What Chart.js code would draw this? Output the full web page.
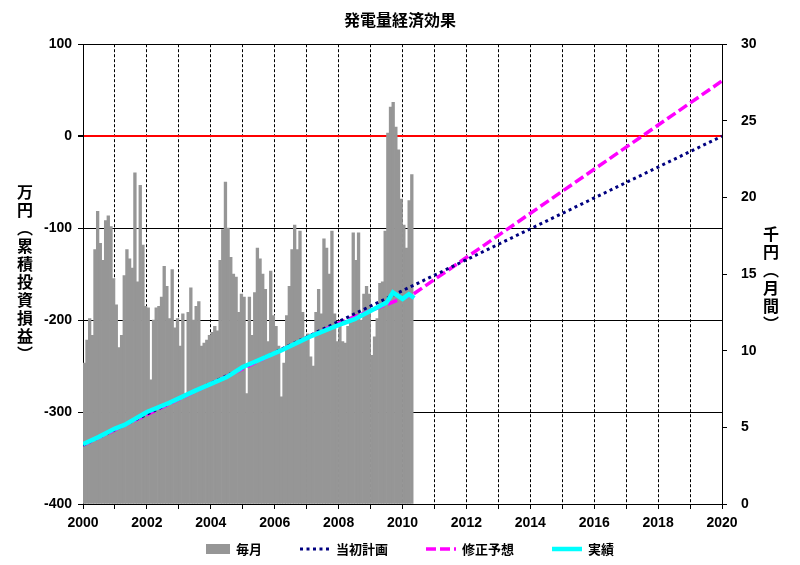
<!DOCTYPE html>
<html>
<head>
<meta charset="utf-8">
<title>発電量経済効果</title>
<script src="https://cdn.jsdelivr.net/npm/chart.js@4.4.0/dist/chart.umd.min.js"></script>
<style>
  html, body { margin: 0; padding: 0; background: #ffffff; }
</style>
</head>
<body>
<canvas id="chart" width="800" height="565"></canvas>
<script>
// monthly amount (千円), Jan 2000 - Apr 2010
var monthly = [
  9.2, 10.7, 12.1, 11.0, 16.6, 19.1, 17.0, 15.9, 18.5, 18.8, 18.1, 14.7, // 2000
  13.0, 10.2, 11.0, 14.9, 16.6, 16.0, 15.4, 21.6, 14.5, 20.8, 16.9, 12.9, // 2001
  12.8, 8.1, 12.0, 12.8, 12.9, 13.5, 15.5, 14.2, 12.1, 15.3, 11.5, 12.1, // 2002
  10.3, 12.4, 7.2, 12.5, 14.1, 12.0, 12.9, 13.2, 10.3, 10.5, 10.7, 11.0, // 2003
  11.2, 11.6, 11.3, 15.9, 17.9, 21.0, 18.0, 16.1, 15.0, 14.8, 12.5, 13.7, // 2004
  13.5, 7.2, 13.5, 11.0, 13.8, 16.7, 16.0, 15.0, 14.0, 10.6, 15.2, 12.3, // 2005
  11.6, 10.3, 7.0, 9.2, 12.3, 14.2, 16.6, 18.2, 16.6, 17.8, 12.5, 10.9, // 2006
  11.1, 9.6, 9.0, 12.5, 14.0, 12.4, 17.3, 16.7, 15.0, 17.8, 12.4, 10.6, // 2007
  11.7, 10.6, 10.5, 11.6, 12.2, 17.7, 15.9, 17.7, 12.0, 13.7, 14.2, 13.7, // 2008
  9.7, 10.9, 12.1, 14.4, 14.5, 17.8, 24.2, 25.9, 26.2, 24.6, 23.1, 19.9, // 2009
  18.2, 16.7, 19.8, 21.5                                                 // 2010
];
var startYear = 2000;

// cumulative (万円)
var planYears = [2000, 2020];
var planValues = [-336, 0];
var revisedYears = [2000, 2008, 2010.33, 2020];
var revisedValues = [-336, -203, -172, 60];
var actualYears = [2000, 2000.5, 2001, 2001.3, 2001.8, 2002, 2002.7, 2003.5, 2004.5, 2005,
  2005.4, 2006.2, 2007.1, 2008.1, 2008.5, 2009.5, 2009.7, 2010, 2010.2, 2010.37];
var actualValues = [-335, -327, -318, -314, -304, -300, -290, -277, -262, -251,
  -245, -233, -218, -204, -199, -181, -170, -177, -172, -176];

var seriesNames = ["毎月", "当初計画", "修正予想", "実績"];
var leftTitle = ["万", "円", "︵", "累", "積", "投", "資", "損", "益", "︶"];
var rightTitle = ["千", "円", "︵", "月", "間", "︶"];

var fontFamily = "'Liberation Sans', 'Noto Sans CJK JP', sans-serif";
Chart.defaults.font.family = fontFamily;
Chart.defaults.color = "#000000";

function points(xs, ys) {
  return xs.map(function (x, i) { return { x: x, y: ys[i] }; });
}

// vertical axis titles and the legend row
var extraText = {
  id: "extraText",
  afterDraw: function (chart) {
    var ctx = chart.ctx;
    ctx.save();
    ctx.fillStyle = "#000000";
    ctx.textAlign = "center";
    ctx.textBaseline = "middle";
    ctx.font = "bold 16px 'Noto Sans CJK JP'";
    leftTitle.forEach(function (ch, i) { ctx.fillText(ch, 25, 192 + i * 18); });
    rightTitle.forEach(function (ch, i) { ctx.fillText(ch, 771, 234 + i * 18); });

    ctx.font = "bold 13px 'Noto Sans CJK JP'";
    var gap = 6, space = 38, y = 549;
    var sets = chart.data.datasets;
    var widths = sets.map(function (ds) {
      var sample = ds.type === "bar" ? 24 : 30;
      return sample + gap + ctx.measureText(ds.label).width;
    });
    var total = widths.reduce(function (a, b) { return a + b; }, 0) + space * (sets.length - 1);
    var x = 410 - total / 2;
    sets.forEach(function (ds, i) {
      var sample = ds.type === "bar" ? 24 : 30;
      if (ds.type === "bar") {
        ctx.fillStyle = ds.backgroundColor;
        ctx.fillRect(x, y - 5, sample, 10);
      } else {
        ctx.strokeStyle = ds.borderColor;
        ctx.lineWidth = ds.borderWidth;
        ctx.setLineDash(ds.borderDash || []);
        ctx.beginPath();
        ctx.moveTo(x, y);
        ctx.lineTo(x + sample, y);
        ctx.stroke();
        ctx.setLineDash([]);
      }
      ctx.fillStyle = "#000000";
      ctx.textAlign = "left";
      ctx.fillText(ds.label, x + sample + gap, y);
      x += widths[i] + space;
    });
    ctx.restore();
  }
};

new Chart(document.getElementById("chart"), {
  type: "bar",
  data: {
    datasets: [
      {
        type: "bar",
        label: seriesNames[0],
        data: monthly.map(function (v, i) { return { x: startYear + (i + 0.5) / 12, y: v }; }),
        yAxisID: "y1",
        backgroundColor: "#969696",
        borderWidth: 0,
        barPercentage: 1,
        categoryPercentage: 1,
        order: 4
      },
      {
        type: "line",
        label: seriesNames[1],
        data: points(planYears, planValues),
        yAxisID: "y",
        borderColor: "#000080",
        borderWidth: 3,
        borderDash: [3, 3.5],
        pointRadius: 0,
        tension: 0,
        order: 1
      },
      {
        type: "line",
        label: seriesNames[2],
        data: points(revisedYears, revisedValues),
        yAxisID: "y",
        borderColor: "#ff00ff",
        borderWidth: 3.5,
        borderDash: [10, 4],
        pointRadius: 0,
        tension: 0,
        order: 2
      },
      {
        type: "line",
        label: seriesNames[3],
        data: points(actualYears, actualValues),
        yAxisID: "y",
        borderColor: "#00ffff",
        borderWidth: 4.5,
        pointRadius: 0,
        tension: 0,
        order: 0
      }
    ]
  },
  options: {
    responsive: false,
    animation: false,
    layout: { padding: { top: 0, left: 0, right: 0, bottom: 32 } },
    plugins: {
      legend: { display: false },
      tooltip: { enabled: false },
      title: {
        display: true,
        text: "発電量経済効果",
        color: "#000000",
        font: { size: 16, weight: "bold", family: fontFamily },
        padding: { top: 12, bottom: 13 }
      }
    },
    scales: {
      x: {
        type: "linear",
        min: 2000,
        max: 2020,
        offset: false,
        grid: { color: "#000000", lineWidth: 1, offset: false, tickLength: 5, tickColor: "#000000" },
        border: { color: "#000000", width: 1, dash: [3, 2] },
        ticks: {
          stepSize: 1,
          autoSkip: false,
          maxRotation: 0,
          padding: 6,
          color: "#000000",
          font: { size: 14, weight: "bold" },
          callback: function (v) { return v % 2 === 0 ? String(v) : ""; }
        },
        afterFit: function (s) { s.height = 29; }
      },
      y: {
        position: "left",
        min: -400,
        max: 100,
        grid: {
          color: function (c) { return c.tick && c.tick.value === 0 ? "#ff0000" : "#000000"; },
          lineWidth: function (c) { return c.tick && c.tick.value === 0 ? 2 : 1; },
          tickLength: 5,
          tickColor: "#000000"
        },
        border: { color: "#000000", width: 1 },
        ticks: { stepSize: 100, padding: 6, color: "#000000", font: { size: 14, weight: "bold" } },
        afterFit: function (s) { s.width = 83; }
      },
      y1: {
        position: "right",
        min: 0,
        max: 30,
        grid: { drawOnChartArea: false, tickLength: 5, color: "#000000" },
        border: { color: "#000000", width: 1 },
        ticks: { stepSize: 5, padding: 14, color: "#000000", font: { size: 14, weight: "bold" } },
        afterFit: function (s) { s.width = 78; }
      }
    }
  },
  plugins: [extraText]
});
</script>
</body>
</html>
